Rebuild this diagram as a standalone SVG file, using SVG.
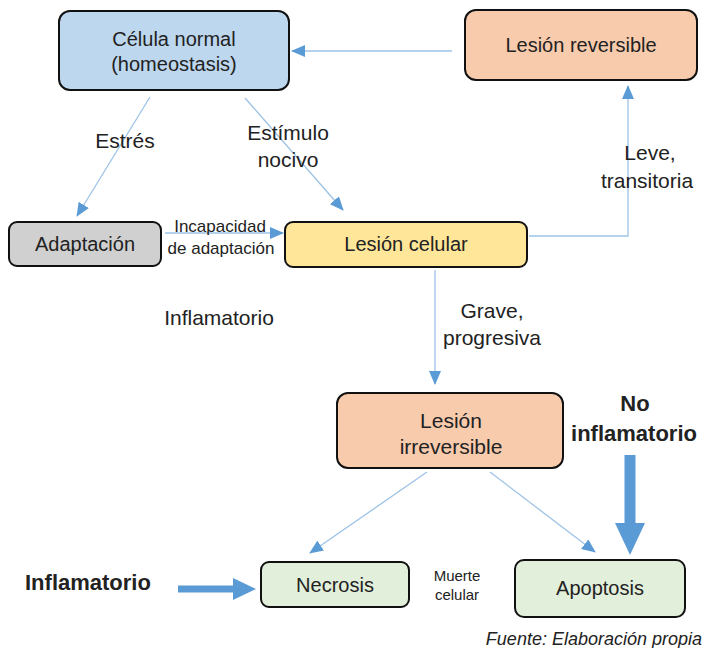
<svg xmlns="http://www.w3.org/2000/svg" width="704" height="648" viewBox="0 0 704 648">
<style>
text{font-family:"Liberation Sans",Arial,sans-serif;fill:#222;text-anchor:middle}
.box{stroke:#111;stroke-width:2}
.lbl{font-size:20px}
.edge{font-size:21px}
.conn{fill:none;stroke:#9dc3e6;stroke-width:1.3}
.thick{fill:#5b9bd5}
.b{font-weight:bold;font-size:22px}
</style>
<defs>
<marker id="ah" markerUnits="userSpaceOnUse" markerWidth="14" markerHeight="12" viewBox="0 0 14 12" refX="13" refY="6" orient="auto">
<path d="M0,0 L14,6 L0,12 Z" fill="#5b9bd5"/>
</marker>
</defs>
<rect width="704" height="648" fill="#fff"/>
<g id="connectors">
<line class="conn" x1="452" y1="51" x2="292" y2="51" marker-end="url(#ah)"/>
<polyline class="conn" points="529,236 628,236 628,86" marker-end="url(#ah)"/>
<line class="conn" x1="150" y1="97" x2="77" y2="216" marker-end="url(#ah)"/>
<line class="conn" x1="245" y1="98" x2="343" y2="210" marker-end="url(#ah)"/>
<line class="conn" x1="165" y1="233" x2="283" y2="233" marker-end="url(#ah)"/>
<line class="conn" x1="435" y1="270" x2="435" y2="384" marker-end="url(#ah)"/>
<line class="conn" x1="427" y1="472" x2="310" y2="553" marker-end="url(#ah)"/>
<line class="conn" x1="490" y1="472" x2="595" y2="552" marker-end="url(#ah)"/>
<polygon class="thick" points="178,585.5 233,585.5 233,578 256,589 233,600 233,592.5 178,592.5"/>
<polygon class="thick" points="624.5,455 635.5,455 635.5,523 645,523 630,555 615,523 624.5,523"/>
</g>
<g id="celula-normal">
<rect class="box" x="59" y="11" width="230" height="79" rx="11" fill="#bdd7ee"/>
<text class="lbl" x="174" y="46">Célula normal</text>
<text class="lbl" x="174" y="71">(homeostasis)</text>
</g>
<g id="lesion-reversible">
<rect class="box" x="465" y="10" width="232" height="70" rx="11" fill="#f8cbad"/>
<text class="lbl" x="581" y="52">Lesión reversible</text>
</g>
<g id="adaptacion">
<rect class="box" x="9" y="222" width="152" height="44" rx="8" fill="#d0d0d0"/>
<text class="lbl" x="85" y="251">Adaptación</text>
</g>
<g id="lesion-celular">
<rect class="box" x="285" y="222" width="242" height="45" rx="8" fill="#ffe699"/>
<text class="lbl" x="406" y="251">Lesión celular</text>
</g>
<g id="lesion-irreversible">
<rect class="box" x="337" y="393" width="226" height="75" rx="11" fill="#f8cbad"/>
<text x="451" y="428" style="font-size:21px">Lesión</text>
<text x="451" y="454" style="font-size:21px">irreversible</text>
</g>
<g id="necrosis">
<rect class="box" x="261" y="562" width="148" height="45" rx="8" fill="#e2efda"/>
<text class="lbl" x="335" y="592">Necrosis</text>
</g>
<g id="apoptosis">
<rect class="box" x="515" y="560" width="170" height="57" rx="9" fill="#e2efda"/>
<text class="lbl" x="600" y="595">Apoptosis</text>
</g>
<g id="labels">
<text class="edge" x="125" y="148">Estrés</text>
<text class="edge" x="288" y="140">Estímulo</text>
<text class="edge" x="288" y="167">nocivo</text>
<text class="edge" x="650" y="160">Leve,</text>
<text class="edge" x="647" y="188">transitoria</text>
<text x="220" y="232" style="font-size:17px">Incapacidad</text>
<text x="221" y="254" style="font-size:17px">de adaptación</text>
<text class="edge" x="219" y="325">Inflamatorio</text>
<text class="edge" x="492" y="318">Grave,</text>
<text class="edge" x="492" y="345">progresiva</text>
<text class="b" x="635" y="411">No</text>
<text class="b" x="634" y="441">inflamatorio</text>
<text class="b" x="25" y="590" style="text-anchor:start">Inflamatorio</text>
<text x="457" y="581" style="font-size:15px">Muerte</text>
<text x="457" y="600" style="font-size:15px">celular</text>
<text x="702" y="645" style="font-size:18px;font-style:italic;text-anchor:end">Fuente: Elaboración propia</text>
</g>
</svg>
